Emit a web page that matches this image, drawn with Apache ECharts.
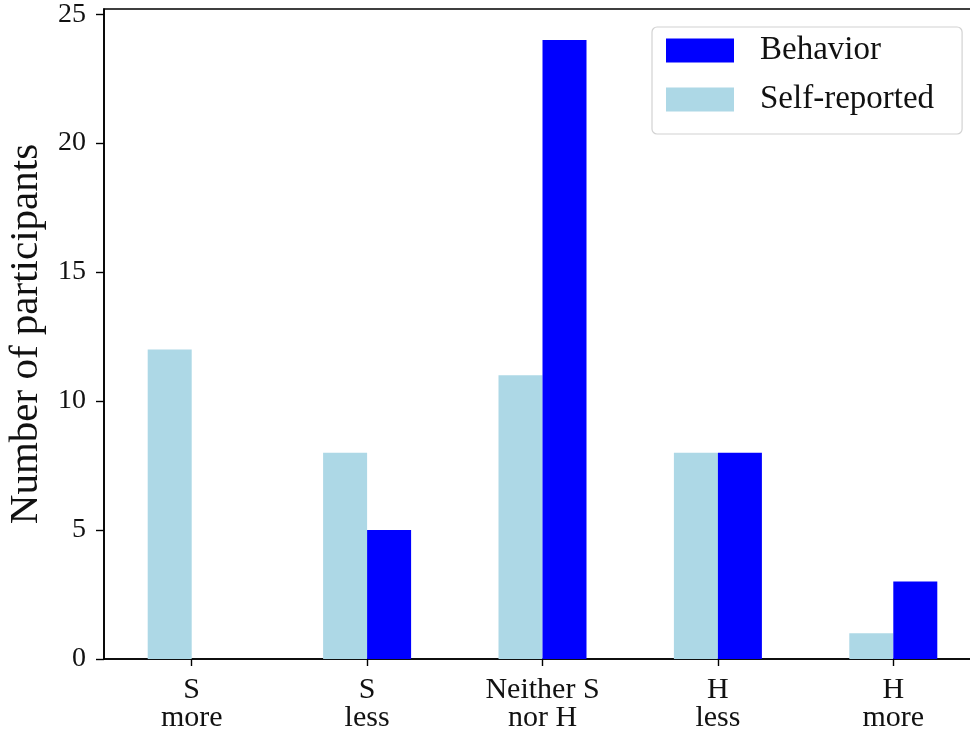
<!DOCTYPE html>
<html>
<head>
<meta charset="utf-8">
<script src="https://cdn.jsdelivr.net/npm/echarts@6/dist/echarts.min.js"></script>
<style>
html,body{margin:0;padding:0;background:#fff;}
#chart{width:970px;height:736px;}
</style>
</head>
<body>
<div id="chart"></div>
<script>
const categories = ['S\nmore', 'S\nless', 'Neither S\nnor H', 'H\nless', 'H\nmore'];
const selfReported = [12, 8, 11, 8, 1];
const behavior = [0, 5, 24, 8, 3];
const yTicks = [0, 5, 10, 15, 20, 25];
const legendOrder = ['Behavior', 'Self-reported'];

const FONT = '"Liberation Serif", "DejaVu Serif", serif';
const chart = echarts.init(document.getElementById('chart'), null, {renderer: 'canvas'});
chart.setOption({
  backgroundColor: '#fff',
  animation: false,
  textStyle: {fontFamily: FONT, color: '#111'},
  grid: {
    left: 104, top: 9, width: 877, bottom: 77,
    outerBoundsMode: 'none',
    containLabel: false,
    show: true, borderColor: '#000', borderWidth: 1.6, backgroundColor: 'transparent'
  },
  legend: {
    data: legendOrder,
    orient: 'vertical',
    left: 652, top: 27,
    padding: [7, 28, 18, 14],
    itemWidth: 68, itemHeight: 24, itemGap: 16,
    icon: 'rect',
    selectedMode: false,
    borderColor: '#d2d2d2', borderWidth: 1.2, borderRadius: 5,
    backgroundColor: 'rgba(255,255,255,0.85)',
    textStyle: {fontFamily: FONT, fontSize: 33, color: '#111', padding: [0, 0, 0, 21]}
  },
  xAxis: {
    type: 'category',
    data: categories,
    axisLine: {lineStyle: {color: '#000', width: 1.6}},
    axisTick: {show: true, alignWithLabel: true, length: 7, lineStyle: {color: '#000', width: 1.4}},
    axisLabel: {fontFamily: FONT, fontSize: 30, lineHeight: 28, color: '#111', margin: 17, interval: 0}
  },
  yAxis: {
    type: 'value',
    min: 0, max: 25.2,
    name: 'Number of participants',
    nameLocation: 'middle',
    nameGap: 55,
    nameRotate: 90,
    nameTextStyle: {fontFamily: FONT, fontSize: 41, color: '#111'},
    axisLine: {show: true, lineStyle: {color: '#000', width: 1.6}},
    axisTick: {show: true, length: 8, customValues: yTicks, lineStyle: {color: '#000', width: 1.4}},
    axisLabel: {fontFamily: FONT, fontSize: 28, color: '#111', margin: 18, customValues: yTicks},
    splitLine: {show: false}
  },
  series: [
    {
      name: 'Self-reported', type: 'bar', data: selfReported,
      barWidth: 44, barGap: '0%',
      itemStyle: {color: '#ADD8E6'}
    },
    {
      name: 'Behavior', type: 'bar', data: behavior,
      barWidth: 44, barGap: '0%',
      itemStyle: {color: '#0000FF'}
    }
  ]
});
</script>
</body>
</html>
